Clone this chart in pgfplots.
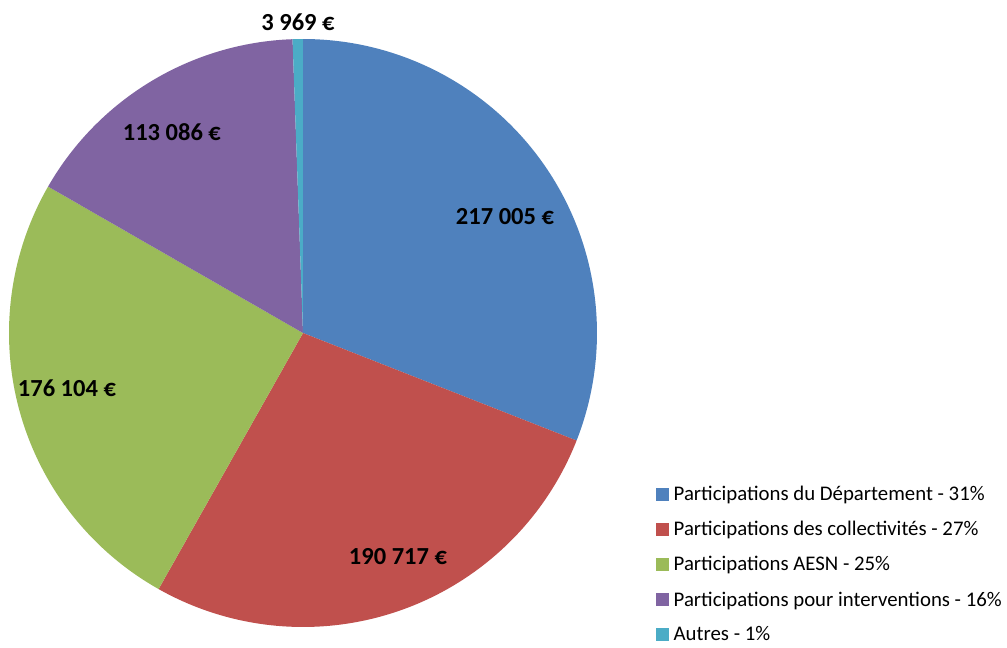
\documentclass[border=0pt]{standalone}
\usepackage{fontspec}
\setmainfont{Carlito}
\usepackage{pgfplots}
\usepackage{pgfplotstable}
\pgfplotsset{compat=1.18}

\definecolor{cA}{RGB}{79,129,189}
\definecolor{cB}{RGB}{192,80,77}
\definecolor{cC}{RGB}{155,187,89}
\definecolor{cD}{RGB}{128,100,162}
\definecolor{cE}{RGB}{75,172,198}

% montants en euros, dans l'ordre du graphique
\pgfplotstableread{
v
217005
190717
176104
113086
3969
}\piedata

\newcommand\getv[2]{\pgfplotstablegetelem{#1}{v}\of\piedata\global\let#2\pgfplotsretval}
\getv{0}\vA \getv{1}\vB \getv{2}\vC \getv{3}\vD \getv{4}\vE
% angles cumulés, départ à 12 h, sens horaire
\edef\tot{\fpeval{\vA+\vB+\vC+\vD+\vE}}
\edef\aA{90}
\edef\aB{\fpeval{\aA-360*\vA/\tot}}
\edef\aC{\fpeval{\aB-360*\vB/\tot}}
\edef\aD{\fpeval{\aC-360*\vC/\tot}}
\edef\aE{\fpeval{\aD-360*\vD/\tot}}
\edef\aF{\fpeval{\aE-360*\vE/\tot}}
\newcommand\slice[3]{\fill[#1] (axis cs:0,0) -- ++(#2:294pt) arc[start angle=#2, end angle=#3, radius=294pt] -- cycle;}
\newcommand\eur[1]{\pgfmathprintnumber[assume math mode=true,1000 sep={\ },int detect]{#1}\ €}

\begin{document}
\begin{tikzpicture}
\begin{axis}[name=ax,at={(0,0)},anchor=south west,
 scale only axis,width=1007pt,height=648pt,hide axis,clip=false,
 xmin=-1.0306,xmax=2.3946,ymin=-1.0714,ymax=1.1327,
 legend cell align=left,
 legend style={draw=none,fill=none,at={(axis cs:1.201,-0.514)},anchor=north west,
  font=\fontsize{20.8}{24}\selectfont,row sep=15.2pt,inner sep=0pt},
 legend image code/.code={\fill[#1] (0pt,-6pt) rectangle (12pt,6pt); \path (15pt,0pt);}]
\slice{cA}{\aA}{\aB}
\slice{cB}{\aB}{\aC}
\slice{cC}{\aC}{\aD}
\slice{cD}{\aD}{\aE}
\slice{cE}{\aE}{\aF}
\addlegendimage{cA}\addlegendentry{Participations du Département - 31\%}
\addlegendimage{cB}\addlegendentry{Participations des collectivités - 27\%}
\addlegendimage{cC}\addlegendentry{Participations AESN - 25\%}
\addlegendimage{cD}\addlegendentry{Participations pour interventions - 16\%}
\addlegendimage{cE}\addlegendentry{Autres - 1\%}
\begin{scope}[every node/.style={font=\bfseries\fontsize{24.5}{29}\selectfont}]
\node at (axis cs:0.687,0.395) {\eur{\vA}};
\node at (axis cs:0.323,-0.762) {\eur{\vB}};
\node at (axis cs:-0.803,-0.187) {\eur{\vC}};
\node at (axis cs:-0.446,0.684) {\eur{\vD}};
\node at (axis cs:-0.017,1.058) {\eur{\vE}};
\end{scope}
\end{axis}
\pgfresetboundingbox
\path (ax.south west) rectangle (ax.north east);
\end{tikzpicture}
\end{document}
